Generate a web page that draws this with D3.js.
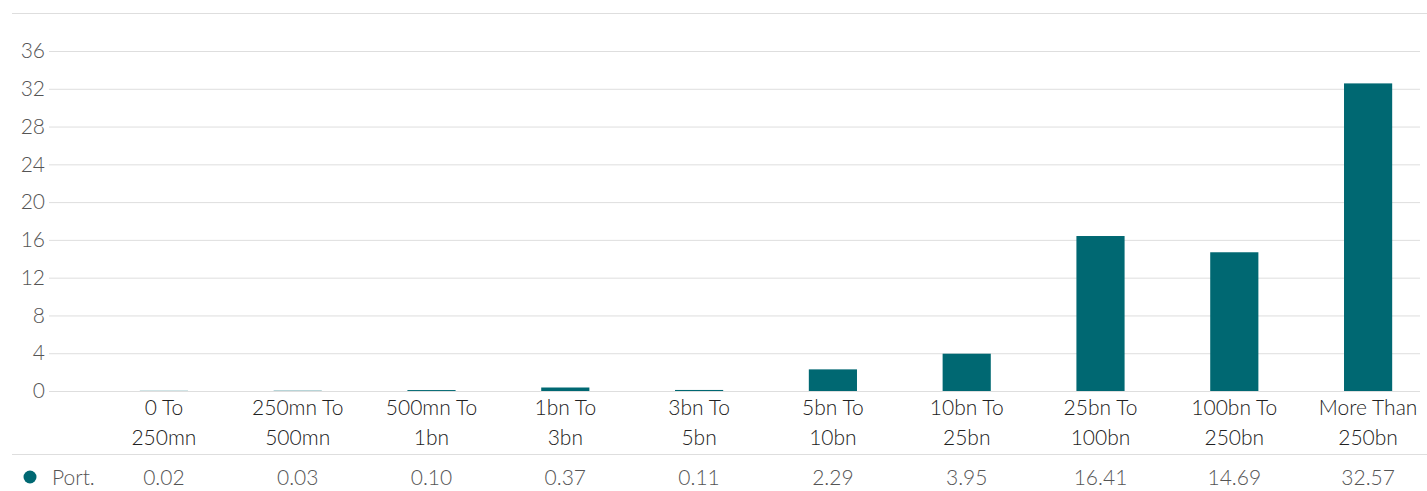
<!DOCTYPE html>
<html lang="en">
	<head>
		<meta charset="utf-8">
		<title>Port. by size</title>
		<script type="text/javascript" src="https://cdn.jsdelivr.net/npm/d3@7"></script>
		<style>
			body { margin: 0; background: #fff; }
			text { font-family: Lato, "Open Sans", sans-serif; }
		</style>
	</head>
	<body>
		<script type="text/javascript">

			//
			// Data
			//
			var categories = [
				["0 To", "250mn"], ["250mn To", "500mn"], ["500mn To", "1bn"],
				["1bn To", "3bn"], ["3bn To", "5bn"], ["5bn To", "10bn"],
				["10bn To", "25bn"], ["25bn To", "100bn"], ["100bn To", "250bn"],
				["More Than", "250bn"]
			];
			var seriesName = "Port.";
			var portValues = [0.02, 0.03, 0.10, 0.37, 0.11, 2.29, 3.95, 16.41, 14.69, 32.57];
			var yTicks = [0, 4, 8, 12, 16, 20, 24, 28, 32, 36];

			var W = 1427, H = 491;
			var barColor = "#006872";
			var gridColor = "#dedede";

			var svg = d3.select("body")
				.append("svg")
				.attr("width", W)
				.attr("height", H);

			var x = d3.scaleBand()
				.domain(d3.range(categories.length))
				.range([97, 1435])
				.paddingInner(0.64)
				.paddingOuter(0.32);

			var y = d3.scaleLinear()
				.domain([0, 36])
				.range([391, 51]);

			// top rule
			svg.append("line")
				.attr("x1", 12).attr("x2", W)
				.attr("y1", 13.5).attr("y2", 13.5)
				.attr("stroke", gridColor);

			// grid + y axis
			var yAxis = d3.axisLeft(y)
				.tickValues(yTicks)
				.tickSize(-(1420 - 49))
				.tickPadding(4)
				.tickFormat(d3.format("d"));

			var gy = svg.append("g")
				.attr("transform", "translate(49,0)")
				.call(yAxis);
			gy.select(".domain").remove();
			gy.selectAll(".tick line").attr("stroke", gridColor);
			gy.selectAll(".tick text")
				.attr("fill", "#555")
				.attr("font-size", 21)
				.attr("font-weight", 300)
				.attr("x", -4);

			// bars
			svg.selectAll("rect.bar")
				.data(portValues)
				.enter()
				.append("rect")
				.attr("class", "bar")
				.attr("x", function(d, i) { return x(i); })
				.attr("width", x.bandwidth())
				.attr("y", function(d) { return y(d); })
				.attr("height", function(d) { return y(0) - y(d); })
				.attr("fill", barColor);

			// category labels
			var cx = function(i) { return x(i) + x.bandwidth() / 2; };
			var labels = svg.selectAll("text.cat")
				.data(categories)
				.enter()
				.append("text")
				.attr("class", "cat")
				.attr("text-anchor", "middle")
				.attr("fill", "#222")
				.attr("font-size", 21)
				.attr("font-weight", 300);
			labels.append("tspan")
				.attr("x", function(d, i) { return cx(i); })
				.attr("y", 415)
				.text(function(d) { return d[0]; });
			labels.append("tspan")
				.attr("x", function(d, i) { return cx(i); })
				.attr("y", 445)
				.text(function(d) { return d[1]; });

			// table rule
			svg.append("line")
				.attr("x1", 12).attr("x2", W)
				.attr("y1", 454.5).attr("y2", 454.5)
				.attr("stroke", gridColor);

			// table row
			svg.append("circle")
				.attr("cx", 30).attr("cy", 477).attr("r", 6.5)
				.attr("fill", barColor);
			svg.append("text")
				.attr("x", 52).attr("y", 485)
				.attr("fill", "#555")
				.attr("font-size", 21)
				.attr("font-weight", 300)
				.text(seriesName);
			svg.selectAll("text.val")
				.data(portValues)
				.enter()
				.append("text")
				.attr("class", "val")
				.attr("x", function(d, i) { return cx(i); })
				.attr("y", 485)
				.attr("text-anchor", "middle")
				.attr("fill", "#555")
				.attr("font-size", 21)
				.attr("font-weight", 300)
				.text(function(d) { return d3.format(".2f")(d); });

		</script>
	</body>
</html>
